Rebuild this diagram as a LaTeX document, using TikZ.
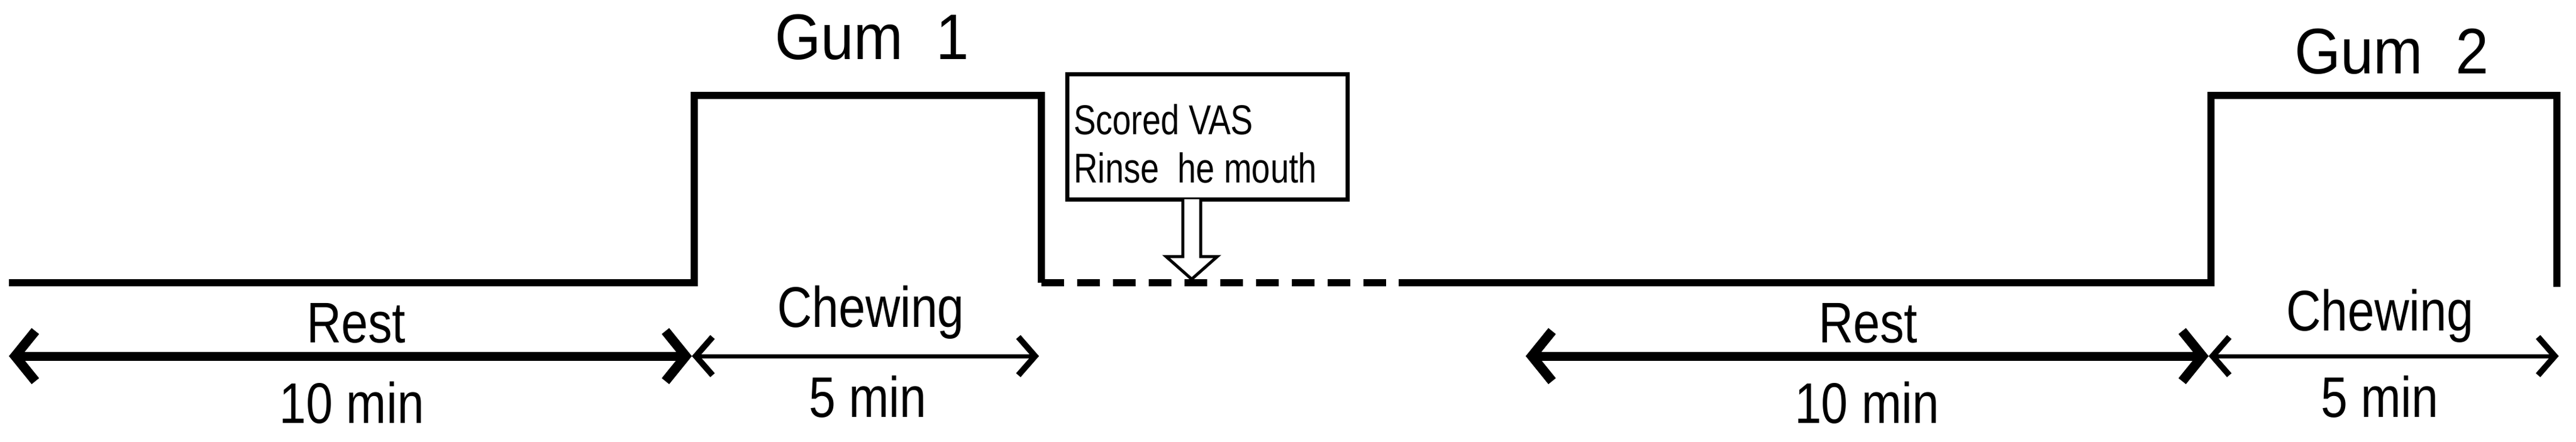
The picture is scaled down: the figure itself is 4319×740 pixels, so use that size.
\documentclass[tikz,border=0pt]{standalone}
\usepackage{fontspec}
\setmainfont{Liberation Sans}
\usetikzlibrary{arrows.meta}
\begin{document}
\begin{tikzpicture}[x=1pt,y=-1pt,
  lbl/.style={font=\fontsize{96}{100}\selectfont,inner sep=0pt,anchor=center,xscale=0.84,transform shape},
  gum/.style={font=\fontsize{108}{115}\selectfont,inner sep=0pt,xscale=0.92,transform shape},
  boxtxt/.style={font=\fontsize{70}{74}\selectfont,inner sep=0pt,anchor=west,xscale=0.8,transform shape},
  mainline/.style={line width=12pt,line join=miter},
  thickarr/.style={line width=15pt,{Straight Barb[length=34pt,width=84pt,line width=16pt]}-{Straight Barb[length=34pt,width=84pt,line width=16pt]}},
  thinarr/.style={line width=7pt,{Straight Barb[length=28pt,width=64pt,line width=10pt]}-{Straight Barb[length=28pt,width=64pt,line width=10pt]}}]
\useasboundingbox (0,0) rectangle (4319,740);
\fill[white] (0,0) rectangle (4319,740);
% time line
\coordinate (a0) at (15,474);
\coordinate (a1) at (1164,474);
\coordinate (a2) at (1164,160);
\coordinate (a3) at (1746,160);
\coordinate (a4) at (1746,474);
\coordinate (d1) at (2345,474);
\coordinate (b1) at (3707,474);
\coordinate (b2) at (3707,160);
\coordinate (b3) at (4287,160);
\coordinate (b4) at (4287,481);
\draw[mainline] (a0) -- (a1) -- (a2) -- (a3) -- (a4);
\draw[mainline,dash pattern=on 38pt off 22pt] (a4) -- (d1);
\draw[mainline] (d1) -- (b1) -- (b2) -- (b3) -- (b4);
% labels on top
\node[gum] (g1) at (1462,62) {Gum\ \ 1};
\node[gum] (g2) at (4010,86) {Gum\ \ 2};
% box
\node[draw,line width=7pt,minimum width=470pt,minimum height=210pt,inner sep=0pt] (box) at (2024,229) {};
\node[boxtxt] (t1) at (1800,200) {Scored VAS};
\node[boxtxt] (t2) at (1800,281) {Rinse\ \ he mouth};
% hollow arrow
\draw[line width=5pt,fill=white,line join=miter] (1983,334) -- (1983,430) -- (1955,430) -- (1998,468) -- (2041,430) -- (2013,430) -- (2013,334);
% durations
\coordinate (r1l) at (15,597); \coordinate (r1r) at (1160,597);
\coordinate (c1r) at (1742,597);
\coordinate (r2l) at (2558,597); \coordinate (r2r) at (3703,597);
\coordinate (c2r) at (4290,597);
\draw[thickarr] (r1l) -- (r1r);
\draw[thinarr] (r1r) -- (c1r);
\draw[thickarr] (r2l) -- (r2r);
\draw[thinarr] (r2r) -- (c2r);
\node[lbl] (rest1) at (597,542) {Rest};
\node[lbl] (ten1) at (590,675) {10 min};
\node[lbl] (chew1) at (1460,524) {Chewing};
\node[lbl] (five1) at (1455,665) {5 min};
\node[lbl] (rest2) at (3132,542) {Rest};
\node[lbl] (ten2) at (3130,675) {10 min};
\node[lbl] (chew2) at (3990,530) {Chewing};
\node[lbl] (five2) at (3990,665) {5 min};
\end{tikzpicture}
\end{document}
